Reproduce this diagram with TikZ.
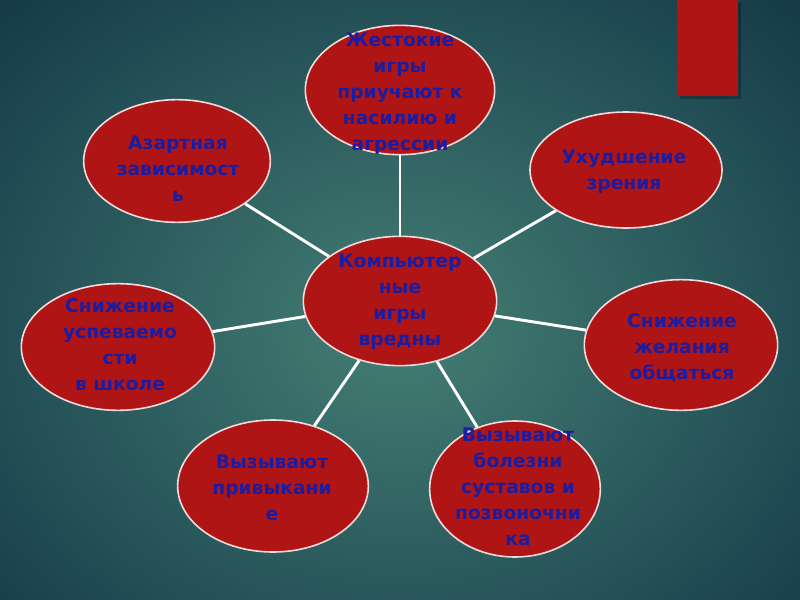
\documentclass[tikz,border=0pt]{standalone}
\usepackage{fontspec}
\setmainfont{DejaVu Sans}
\usetikzlibrary{shapes.geometric}
\definecolor{bgin}{HTML}{447F74}
\definecolor{bgout}{HTML}{163C4A}
\definecolor{redfill}{HTML}{B01515}
\definecolor{txtblue}{HTML}{1C1CA0}
\definecolor{rimcol}{HTML}{F2DADA}
\tikzset{
  bubble/.style={ellipse, draw=rimcol, line width=1.2pt, fill=redfill,
    inner sep=0pt, text=txtblue, align=center,
    font=\bfseries\fontsize{14}{19.5}\selectfont},
  link/.style={draw=white, line width=2.2pt}
}
\begin{document}
\begin{tikzpicture}[x=0.75pt,y=-0.75pt]
\useasboundingbox (0,0) rectangle (800,600);
\shade[inner color=bgin, outer color=bgout] (-150,-120) rectangle (950,780);
% red bar with shadow
\fill[black,opacity=0.25] (680,3) rectangle (741,99);
\fill[redfill] (677,0) rectangle (738,96);
% ellipses
\node[bubble, minimum width=145pt, minimum height=97pt] (c) at (400,301) {};
\node[bubble, minimum width=142pt, minimum height=97pt] (t) at (400,90) {};
\node[bubble, minimum width=144pt, minimum height=87pt] (tr) at (626,170) {};
\node[bubble, minimum width=140pt, minimum height=92pt] (tl) at (177,161) {};
\node[bubble, minimum width=145pt, minimum height=95pt] (l) at (118,347) {};
\node[bubble, minimum width=145pt, minimum height=98pt] (r) at (681,345) {};
\node[bubble, minimum width=143pt, minimum height=99pt] (bl) at (273,486) {};
\node[bubble, minimum width=128pt, minimum height=102pt] (br) at (515,489) {};
% links
\foreach \n in {t,tr,tl,l,r,bl,br}{
  \draw[link] (c) -- (\n);
}
% texts
\node[bubble, draw=none, fill=none] (ct) at (400,302) {Компьютер\\ные\\игры\\вредны};
\node[bubble, draw=none, fill=none] (tt) at (400,94) {Жестокие\\игры\\приучают к\\насилию и\\агрессии};
\node[bubble, draw=none, fill=none] (trt) at (624,172) {Ухудшение\\зрения};
\node[bubble, draw=none, fill=none] (tlt) at (178,169) {Азартная\\зависимост\\ь};
\node[bubble, draw=none, fill=none] (lt) at (120,345) {Снижение\\успеваемо\\сти\\в школе};
\node[bubble, draw=none, fill=none] (rt) at (682,348) {Снижение\\желания\\общаться};
\node[bubble, draw=none, fill=none] (blt) at (272,488) {Вызывают\\привыкани\\е};
\node[bubble, draw=none, fill=none] (brt) at (518,487) {Вызывают\\болезни\\суставов и\\позвоночни\\ка};
\end{tikzpicture}
\end{document}
